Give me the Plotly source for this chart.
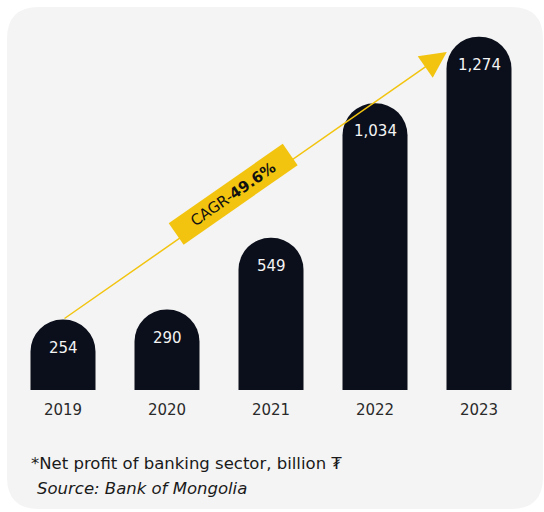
import math
import plotly.graph_objects as go

# Net profit of the banking sector, billion MNT
years = ["2019", "2020", "2021", "2022", "2023"]
profit = [254, 290, 549, 1034, 1274]
value_labels = ["254", "290", "549", "1,034", "1,274"]
cagr_label = "CAGR-<b>49.6%</b>"
note_text = "*Net profit of banking sector, billion ₮"
source_text = "<i>Source: Bank of Mongolia</i>"

W, H = 544, 512
M_L, M_R, M_T, M_B = 11, 13, 10, 122
PLOT_W = W - M_L - M_R
PLOT_H = H - M_T - M_B
Y_MAX = 1370

BAR = "#0b0f1b"
GOLD = "#f2c40f"
FONT = "DejaVu Sans, sans-serif"

x_idx = list(range(len(years)))


def px_x(px):
    return (px - M_L) / PLOT_W


def px_y(py):
    return (H - M_B - py) / PLOT_H


def rounded_panel(x0, y0, x1, y1, r):
    pts = []
    pts.append(f"M {px_x(x0 + r)},{px_y(y0)}")
    pts.append(f"L {px_x(x1 - r)},{px_y(y0)}")
    pts.append(f"Q {px_x(x1)},{px_y(y0)} {px_x(x1)},{px_y(y0 + r)}")
    pts.append(f"L {px_x(x1)},{px_y(y1 - r)}")
    pts.append(f"Q {px_x(x1)},{px_y(y1)} {px_x(x1 - r)},{px_y(y1)}")
    pts.append(f"L {px_x(x0 + r)},{px_y(y1)}")
    pts.append(f"Q {px_x(x0)},{px_y(y1)} {px_x(x0)},{px_y(y1 - r)}")
    pts.append(f"L {px_x(x0)},{px_y(y0 + r)}")
    pts.append(f"Q {px_x(x0)},{px_y(y0)} {px_x(x0 + r)},{px_y(y0)}")
    return " ".join(pts) + " Z"


fig = go.Figure()
fig.add_trace(go.Bar(
    x=x_idx, y=profit, width=0.625,
    marker=dict(color=BAR, cornerradius="50%", line=dict(width=0)),
    hoverinfo="skip",
))

annotations = []
for i, (v, lab) in enumerate(zip(profit, value_labels)):
    annotations.append(dict(
        x=i, y=v, xref="x", yref="y", text=lab, showarrow=False,
        yshift=-28,
        font=dict(family=FONT, size=15, color="#f4f4f4"),
    ))

# growth arrow from the first bar's top to the last bar's top
x_start, y_start = 0, profit[0]
x_end, y_end = len(years) - 1 - 0.31, profit[-1] - 55
annotations.append(dict(
    x=x_end, y=y_end, ax=x_start, ay=y_start,
    xref="x", yref="y", axref="x", ayref="y",
    text="", showarrow=True, arrowhead=2, arrowsize=3.5, arrowwidth=1.5,
    arrowcolor=GOLD, standoff=0, startstandoff=0,
))

# CAGR badge placed along the arrow, rotated to its slope
unit_x = PLOT_W / 5.0
unit_y = PLOT_H / Y_MAX
dx_px = (x_end - x_start) * unit_x
dy_px = (y_end - y_start) * unit_y
angle = math.degrees(math.atan2(dy_px, dx_px))
t = 0.45
annotations.append(dict(
    x=x_start + t * (x_end - x_start), y=y_start + t * (y_end - y_start),
    xref="x", yref="y", text=cagr_label, showarrow=False,
    textangle=-angle, bgcolor=GOLD, width=136, height=23,
    yshift=5, xshift=-3,
    font=dict(family=FONT, size=15, color="#111111"),
))

annotations.append(dict(
    x=px_x(29), y=px_y(463), xref="paper", yref="paper", xanchor="left",
    yanchor="middle", text=note_text, showarrow=False,
    font=dict(family=FONT, size=16.5, color="#1a1a1a"),
))
annotations.append(dict(
    x=px_x(35), y=px_y(488), xref="paper", yref="paper", xanchor="left",
    yanchor="middle", text=source_text, showarrow=False,
    font=dict(family=FONT, size=16.5, color="#1a1a1a"),
))

fig.update_layout(
    width=W, height=H,
    margin=dict(l=M_L, r=M_R, t=M_T, b=M_B, pad=0),
    paper_bgcolor="white", plot_bgcolor="rgba(0,0,0,0)",
    showlegend=False,
    xaxis=dict(range=[-0.5, 4.5], tickvals=x_idx, ticktext=years,
               showgrid=False, zeroline=False, showline=False, ticks="",
               ticklabelstandoff=9,
               tickfont=dict(family=FONT, size=15, color="#2a2a2a"),
               fixedrange=True),
    yaxis=dict(range=[0, Y_MAX], visible=False, fixedrange=True),
    shapes=[dict(type="path", xref="paper", yref="paper", layer="below",
                 path=rounded_panel(7, 7, 543, 509, 32),
                 fillcolor="#f4f4f4", line=dict(width=0))],
    annotations=annotations,
)

fig.write_html("out.html")
